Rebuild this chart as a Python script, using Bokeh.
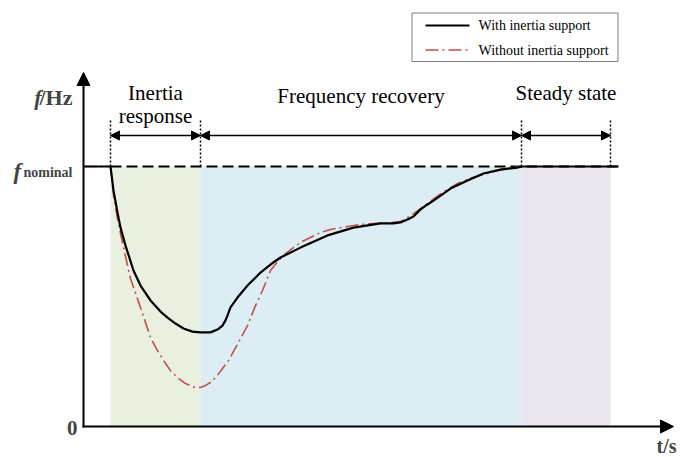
from bokeh.plotting import figure
from bokeh.models import Range1d, Label, Arrow, NormalHead
from bokeh.embed import file_html
from bokeh.resources import INLINE

# ---------------- data (t in s, f in per-unit of nominal) ----------------
t_with = [-2.7, 0.0, 0.3, 0.7, 1.0, 1.5, 2.3, 3.0, 4.0, 5.0, 5.7, 6.5, 7.3, 8.2, 9.0,
          10.0, 10.7, 11.2, 11.5, 11.7, 12.0, 12.7, 13.7, 15.0, 16.0, 17.0, 19.0,
          21.7, 24.3, 27.0, 28.3, 29.0, 29.7, 30.3, 31.0, 31.7, 32.3, 34.0, 35.7,
          37.3, 39.0, 40.7, 41.2, 50.8]
f_with = [1.0, 1.0, 0.908, 0.823, 0.765, 0.696, 0.600, 0.542, 0.485, 0.442, 0.419,
          0.396, 0.377, 0.365, 0.362, 0.362, 0.373, 0.388, 0.408, 0.427, 0.458,
          0.496, 0.542, 0.592, 0.623, 0.650, 0.688, 0.735, 0.765, 0.781, 0.781,
          0.785, 0.796, 0.808, 0.835, 0.854, 0.869, 0.915, 0.946, 0.973, 0.988,
          0.996, 1.0, 1.0]

t_without = [-2.7, 0.0, 0.3, 0.7, 1.0, 1.5, 2.0, 3.0, 4.0, 4.7, 5.3, 6.0, 6.7, 7.5,
             8.3, 9.0, 9.5, 10.0, 10.6, 11.2, 11.8, 12.8, 13.7, 14.5, 15.2, 16.0,
             16.8, 17.5, 18.2, 19.0, 21.0, 22.0, 23.7, 25.0, 26.3, 27.7, 29.0, 29.7,
             30.3, 31.0, 31.7, 33.2, 34.7, 36.2, 37.7, 39.0, 40.7, 41.2]
f_without = [1.0, 1.0, 0.888, 0.800, 0.742, 0.654, 0.569, 0.458, 0.342, 0.292, 0.254,
             0.215, 0.188, 0.165, 0.152, 0.150, 0.158, 0.169, 0.192, 0.223, 0.254,
             0.323, 0.388, 0.465, 0.523, 0.600, 0.638, 0.665, 0.685, 0.708, 0.746,
             0.758, 0.769, 0.777, 0.781, 0.783, 0.788, 0.804, 0.819, 0.838, 0.858,
             0.900, 0.935, 0.958, 0.973, 0.988, 0.998, 1.0]

f_nominal = 1.0
nominal_end = 50.8
phase_bounds = [0.0, 9.0, 41.1, 50.0]
phase_labels = [["Inertia", "response"], ["Frequency recovery"], ["Steady state"]]
phase_colors = ["#EAF0DF", "#DCEEF4", "#EAE7F1"]
legend_labels = ["With inertia support", "Without inertia support"]

RED = "#C0504D"
SERIF = "Liberation Serif"

# --------- mapping helpers (reference page pixels -> data) for annotations ---------
def X(px):
    return (px - 110) / 10.0

def Y(py):
    return (426 - py) / 260.0

W, H = 681, 457
p = figure(width=W, height=H, x_range=Range1d(X(0), X(W)),
           y_range=Range1d(Y(H), Y(0)), output_backend="svg",
           toolbar_location=None, tools="", min_border=0,
           x_axis_type=None, y_axis_type=None)
p.grid.visible = False
p.outline_line_color = None
p.background_fill_color = "white"

# shaded phases
p.quad(left=phase_bounds[:-1], right=phase_bounds[1:], bottom=0, top=f_nominal,
       fill_color=phase_colors, line_color=None)

# nominal dashed line
p.line([phase_bounds[0], nominal_end], [f_nominal, f_nominal], line_color="black",
       line_width=2, line_dash="11 5")

# curves
p.line(t_without, f_without, line_color=RED, line_width=1.6, line_dash="13 4 2 4")
p.line(t_with, f_with, line_color="black", line_width=2.2)

# vertical dotted phase markers
p.segment(x0=phase_bounds, y0=[f_nominal] * 4, x1=phase_bounds, y1=[Y(120)] * 4,
          line_color="black", line_width=1.5, line_dash="2 2")

# double arrows per phase
for a, b in zip(phase_bounds[:-1], phase_bounds[1:]):
    p.add_layout(Arrow(start=NormalHead(size=9, fill_color="black", line_color="black"),
                       end=NormalHead(size=9, fill_color="black", line_color="black"),
                       x_start=a, y_start=Y(135), x_end=b, y_end=Y(135),
                       line_width=1.5, line_color="black"))

# phase labels
label_y = [[Y(92), Y(115)], [Y(95)], [Y(92)]]
for (a, b), lines, ys in zip(zip(phase_bounds[:-1], phase_bounds[1:]), phase_labels, label_y):
    for txt, yy in zip(lines, ys):
        p.add_layout(Label(x=(a + b) / 2, y=yy, text=txt, text_align="center",
                           text_baseline="middle", text_font=SERIF,
                           text_font_size="21px", text_color="black"))

# axes with arrows
p.add_layout(Arrow(end=NormalHead(size=13, fill_color="black", line_color="black"),
                   x_start=X(83), y_start=Y(427), x_end=X(83), y_end=Y(72),
                   line_width=2, line_color="black"))
p.add_layout(Arrow(end=NormalHead(size=13, fill_color="black", line_color="black"),
                   x_start=X(82), y_start=Y(426), x_end=X(673), y_end=Y(426),
                   line_width=2, line_color="black"))

# axis labels
p.add_layout(Label(x=X(41), y=Y(97), text="f", text_align="right", text_baseline="middle",
                   text_font=SERIF, text_font_size="22px", text_font_style="bold italic"))
p.add_layout(Label(x=X(39), y=Y(97), text="/Hz", text_align="left", text_baseline="middle",
                   text_font=SERIF, text_font_size="22px", text_font_style="bold"))
p.add_layout(Label(x=X(13), y=Y(171), text="f", text_align="left", text_baseline="alphabetic",
                   text_font=SERIF, text_font_size="23px", text_font_style="bold italic"))
p.add_layout(Label(x=X(23), y=Y(172), text="nominal", text_align="left",
                   text_baseline="alphabetic", text_font=SERIF, text_font_size="14px",
                   text_font_style="bold"))
p.add_layout(Label(x=X(77), y=Y(427), text="0", text_align="right", text_baseline="middle",
                   text_font=SERIF, text_font_size="21px", text_font_style="bold"))
p.add_layout(Label(x=X(676), y=Y(445), text="t/s", text_align="right",
                   text_baseline="alphabetic", text_font=SERIF, text_font_size="20px",
                   text_font_style="bold"))

# legend box
p.quad(left=[X(411.5)], right=[X(617.5)], bottom=[Y(61)], top=[Y(12.5)],
       fill_color="white", line_color="#7F7F7F", line_width=1)
p.line([X(425), X(469)], [Y(25), Y(25)], line_color="black", line_width=2)
p.line([X(425), X(469)], [Y(49.5), Y(49.5)], line_color=RED, line_width=1.6,
       line_dash="13 4 2 4")
for txt, yy in zip(legend_labels, [Y(25), Y(49.5)]):
    p.add_layout(Label(x=X(478), y=yy, text=txt, text_align="left", text_baseline="middle",
                       text_font=SERIF, text_font_size="14px", text_color="black"))

open("out.html", "w").write(file_html(p, INLINE))
